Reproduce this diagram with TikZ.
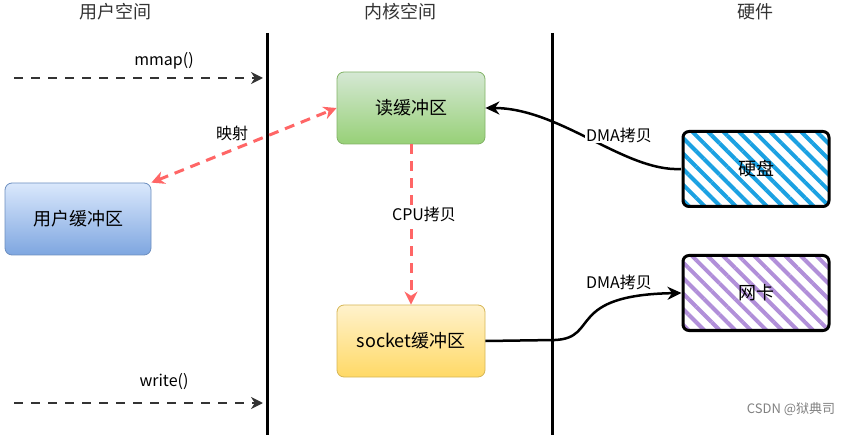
\documentclass[tikz,border=0pt]{standalone}
\usepackage{fontspec}
\setmainfont{Noto Sans CJK SC}
\usetikzlibrary{arrows.meta,patterns.meta,shapes.misc}
\definecolor{redd}{HTML}{FF6666}
\definecolor{grnT}{HTML}{D5E8D4}
\definecolor{grnB}{HTML}{97D077}
\definecolor{grnL}{HTML}{82B366}
\definecolor{bluT}{HTML}{DAE8FC}
\definecolor{bluB}{HTML}{7EA6E0}
\definecolor{bluL}{HTML}{6C8EBF}
\definecolor{yelT}{HTML}{FFF2CC}
\definecolor{yelB}{HTML}{FFD966}
\definecolor{yelL}{HTML}{D6B656}
\definecolor{hatB}{HTML}{1BA1E2}
\definecolor{hatP}{HTML}{B18FD9}
\tikzset{
  heading/.style={font=\fontsize{18}{21}\selectfont, text=black!80},
  lbl/.style={font=\fontsize{16}{19}\selectfont, text=black, inner sep=1pt},
  buf/.style={rounded corners=7pt, minimum width=148pt, minimum height=72pt, font=\fontsize{18}{21}\selectfont, line width=0.8pt},
  hw/.style={rounded corners=6pt, minimum width=146pt, minimum height=75pt, draw=black, line width=3pt},
  hwtext/.style={font=\fontsize{18}{21}\selectfont},
  wall/.style={line width=3pt, black},
  call/.style={line width=2.5pt, black!80, dash pattern=on 9pt off 8pt, -{Stealth[length=12pt,width=12pt]}},
  redarr/.style={line width=3pt, redd, dash pattern=on 10pt off 7pt},
  dma/.style={line width=2.5pt, black, -{Stealth[length=14pt,width=13pt]}}
}
\begin{document}
\begin{tikzpicture}[x=1pt,y=-1pt]
\useasboundingbox (0,0) rectangle (856,435);
% headings
\node[heading] (h1) at (115,12) {用户空间};
\node[heading] (h2) at (400,12) {内核空间};
\node[heading] (h3) at (755,12) {硬件};
% walls
\coordinate (w1t) at (267,33);
\coordinate (w1b) at (267,435);
\coordinate (w2t) at (552,33);
\coordinate (w2b) at (552,435);
\draw[wall] (w1t) -- (w1b);
\draw[wall] (w2t) -- (w2b);
% boxes
\node[buf, draw=grnL, top color=grnT, bottom color=grnB] (rb) at (411,108) {读缓冲区};
\node[buf, draw=bluL, top color=bluT, bottom color=bluB, minimum width=146pt] (ub) at (78,219) {用户缓冲区};
\node[buf, draw=yelL, top color=yelT, bottom color=yelB] (sb) at (411,341) {socket缓冲区};
\node[hw, pattern={Lines[angle=-45,distance=11pt,line width=4pt]}, pattern color=hatB] (hd) at (756,169) {};
\node[hwtext] (hdt) at (hd) {硬盘};
\node[hw, pattern={Lines[angle=-45,distance=11pt,line width=4pt]}, pattern color=hatP] (nc) at (756,293) {};
\node[hwtext] (nct) at (nc) {网卡};
% calls
\coordinate (m0) at (14,78);
\coordinate (m1) at (263,78);
\coordinate (wr0) at (14,403);
\coordinate (wr1) at (263,403);
\draw[call] (m0) -- (m1);
\draw[call] (wr0) -- (wr1);
\node[lbl] (ml) at (164,61) {mmap()};
\node[lbl] (wl) at (164,382) {write()};
% red arrows
\draw[redarr, {Stealth[length=13pt,width=13pt]}-{Stealth[length=13pt,width=13pt]}] (ub.north east) -- (rb.west);
\node[lbl] (ys) at (232,133) {映射};
\draw[redarr, -{Stealth[length=13pt,width=13pt]}] (rb.south) -- (sb.north);
\node[lbl, fill=white] (cpu) at (424,214) {CPU拷贝};
% DMA
\draw[dma] (hd.west) .. controls (625,172) and (560,108) .. (rb.east);
\node[lbl, fill=white] (d1) at (619,135) {DMA拷贝};
\draw[dma] (sb.east) -- (555,340) .. controls (600,338) and (565,295) .. (nc.west);
\node[lbl] (d2) at (619,282) {DMA拷贝};
% watermark
\node[font=\fontsize{13}{15}\selectfont, text=black!50] (wm) at (791,409) {CSDN @狱典司};
\end{tikzpicture}
\end{document}
